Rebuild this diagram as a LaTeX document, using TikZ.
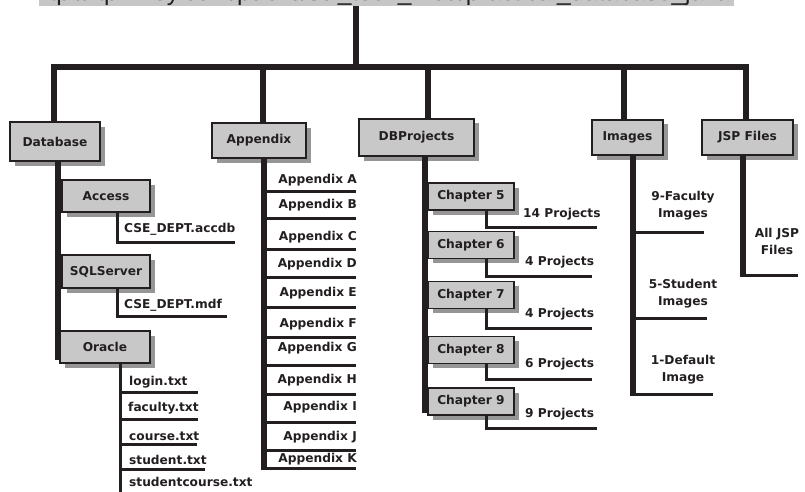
\documentclass[tikz,border=0pt]{standalone}
\usepackage{fontspec}
\setmainfont{DejaVu Sans}
\newfontfamily\urlfont{Liberation Sans}
\usetikzlibrary{shadows}

\definecolor{ink}{RGB}{35,31,32}
\definecolor{boxgray}{RGB}{200,200,200}
\definecolor{shadowgray}{RGB}{150,150,150}
\definecolor{urlgray}{RGB}{198,198,198}

\tikzset{
    folder/.style={draw=ink, line width=1.3pt, fill=boxgray, text=ink,
        font=\bfseries\fontsize{12.2}{17}\selectfont, inner sep=0pt,
        drop shadow={shadow xshift=4.5pt, shadow yshift=-4.5pt, fill=shadowgray, opacity=1}},
    item/.style={text=ink, font=\bfseries\fontsize{12.2}{17}\selectfont, inner sep=0pt},
    trunk/.style={draw=ink, line width=6pt},
    branch/.style={draw=ink, line width=3pt}
}

\begin{document}
\begin{tikzpicture}[x=1pt,y=-1pt]
    \useasboundingbox (0,0) rectangle (805,492);
    \clip (0,0) rectangle (805,492);

    \node[fill=urlgray, text=ink, font=\urlfont\fontsize{24.5}{26}\selectfont,
        inner xsep=4pt, inner ysep=0.5pt, anchor=base] (url) at (386.5,0.5)
        {ftp://ftp.wiley.com/public/sci\_tech\_med/practical\_database\_java};
    \coordinate (hub) at (356,67);

    \node[folder, minimum width=90pt, minimum height=39pt] (db) at (55,141.5) {Database};
    \node[folder, minimum width=94pt, minimum height=35pt] (app) at (259,140.5) {Appendix};
    \node[folder, minimum width=115pt, minimum height=37pt] (dbp) at (416.5,137.5) {DBProjects};
    \node[folder, minimum width=71pt, minimum height=35pt] (img) at (627.5,137.5) {Images};
    \node[folder, minimum width=91pt, minimum height=35pt] (jsp) at (747.5,137.5) {JSP Files};

    \draw[trunk] (hub |- url.south) -- (hub);
    \draw[trunk] ([xshift=-1pt]db.north) |- (hub);
    \draw[trunk] ([xshift=4pt]app.north) |- (hub);
    \draw[trunk] ([xshift=11.5pt]dbp.north) |- (hub);
    \draw[trunk] ([xshift=-3.5pt]img.north) |- (hub);
    \draw[trunk] ([xshift=-1.5pt]jsp.north) |- (hub);

    % Database
    \node[folder, minimum width=88pt, minimum height=32pt] (acc) at (106,196) {Access};
    \node[folder, minimum width=88pt, minimum height=33pt] (sql) at (106,271.5) {SQLServer};
    \node[folder, minimum width=90pt, minimum height=32pt] (ora) at (105,347) {Oracle};
    \coordinate (dbend) at (58,360);
    \draw[trunk] (db.south -| dbend) -- (dbend);

    \node[item, anchor=west] (accdb) at (124,229) {CSE\_DEPT.accdb};
    \coordinate (accend) at (235,242);
    \draw[branch] ([xshift=11pt]acc.south) |- (accend);
    \node[item, anchor=west] (mdf) at (124,305) {CSE\_DEPT.mdf};
    \coordinate (mdfend) at (227,316);
    \draw[branch] ([xshift=11pt]sql.south) |- (mdfend);

    \coordinate (oraend) at (120,500);
    \draw[branch] ([xshift=15pt]ora.south) -- (oraend);
    \node[item, anchor=west] (login) at (129,382) {login.txt};
    \node[item, anchor=west] (fac) at (128,408) {faculty.txt};
    \node[item, anchor=west] (course) at (129,436) {course.txt};
    \node[item, anchor=west] (stu) at (129,460) {student.txt};
    \node[item, anchor=west] (stucrs) at (129,482) {studentcourse.txt};
    \coordinate (loginend) at (198,392);
    \coordinate (facend) at (198,419);
    \coordinate (courseend) at (197,444);
    \coordinate (stuend) at (205,469);
    \draw[branch] (oraend |- loginend) -- (loginend);
    \draw[branch] (oraend |- facend) -- (facend);
    \draw[branch] (oraend |- courseend) -- (courseend);
    \draw[branch] (oraend |- stuend) -- (stuend);

    % Appendix
    \coordinate (atr) at (264,468);
    \draw[trunk] (atr |- app.south) -- ([yshift=-1.5pt]atr);
    \node[item, anchor=east] (apA) at (357,180) {Appendix A};
    \node[item, anchor=east] (apB) at (357,205) {Appendix B};
    \node[item, anchor=east] (apC) at (357,237) {Appendix C};
    \node[item, anchor=east] (apD) at (357,264) {Appendix D};
    \node[item, anchor=east] (apE) at (357,293) {Appendix E};
    \node[item, anchor=east] (apF) at (357,324) {Appendix F};
    \node[item, anchor=east] (apG) at (357,348) {Appendix G};
    \node[item, anchor=east] (apH) at (357,380) {Appendix H};
    \node[item, anchor=east] (apI) at (357,407) {Appendix I};
    \node[item, anchor=east] (apJ) at (357,437) {Appendix J};
    \node[item, anchor=east] (apK) at (357,459) {Appendix K};
    \coordinate (aendA) at (356,191);
    \coordinate (aendB) at (356,218);
    \coordinate (aendC) at (356,249);
    \coordinate (aendD) at (356,277);
    \coordinate (aendE) at (356,307);
    \coordinate (aendF) at (356,337);
    \coordinate (aendG) at (356,365);
    \coordinate (aendH) at (356,394);
    \coordinate (aendI) at (356,422);
    \coordinate (aendJ) at (356,450);
    \coordinate (aendK) at (356,468);
    \draw[branch] (atr |- aendA) -- (aendA);
    \draw[branch] (atr |- aendB) -- (aendB);
    \draw[branch] (atr |- aendC) -- (aendC);
    \draw[branch] (atr |- aendD) -- (aendD);
    \draw[branch] (atr |- aendE) -- (aendE);
    \draw[branch] (atr |- aendF) -- (aendF);
    \draw[branch] (atr |- aendG) -- (aendG);
    \draw[branch] (atr |- aendH) -- (aendH);
    \draw[branch] (atr |- aendI) -- (aendI);
    \draw[branch] (atr |- aendJ) -- (aendJ);
    \draw[branch] (atr) -- (aendK);

    % DBProjects
    \coordinate (dtr) at (425,413);
    \draw[trunk] (dtr |- dbp.south) -- (dtr);
    \node[folder, minimum width=86pt, minimum height=27pt] (ch5) at (471,196.5) {Chapter 5};
    \node[folder, minimum width=86pt, minimum height=27pt] (ch6) at (471,245) {Chapter 6};
    \node[folder, minimum width=86pt, minimum height=27pt] (ch7) at (471,295) {Chapter 7};
    \node[folder, minimum width=86pt, minimum height=27pt] (ch8) at (471,350) {Chapter 8};
    \node[folder, minimum width=86pt, minimum height=27pt] (ch9) at (471,401.5) {Chapter 9};
    \node[item, anchor=west] (p5) at (523,214) {14 Projects};
    \node[item, anchor=west] (p6) at (525,262) {4 Projects};
    \node[item, anchor=west] (p7) at (525,314) {4 Projects};
    \node[item, anchor=west] (p8) at (525,364) {6 Projects};
    \node[item, anchor=west] (p9) at (525,414) {9 Projects};
    \coordinate (p5end) at (597,227);
    \coordinate (p6end) at (592,276);
    \coordinate (p7end) at (592,328);
    \coordinate (p8end) at (592,379);
    \coordinate (p9end) at (597,428);
    \draw[branch] ([xshift=15pt]ch5.south) |- (p5end);
    \draw[branch] ([xshift=15pt]ch6.south) |- (p6end);
    \draw[branch] ([xshift=15pt]ch7.south) |- (p7end);
    \draw[branch] ([xshift=15pt]ch8.south) |- (p8end);
    \draw[branch] ([xshift=15pt]ch9.south) |- (p9end);

    % Images
    \coordinate (itr) at (633,394);
    \draw[trunk] (itr |- img.south) -- ([yshift=-1.5pt]itr);
    \node[item, align=center] (fac9) at (683,205.5) {9-Faculty\\Images};
    \node[item, align=center] (stu5) at (683,294) {5-Student\\Images};
    \node[item, align=center] (def1) at (683,369.5) {1-Default\\Image};
    \coordinate (facimg) at (704,232);
    \coordinate (stuimg) at (707,318);
    \coordinate (defimg) at (713,394);
    \draw[branch] (itr |- facimg) -- (facimg);
    \draw[branch] (itr |- stuimg) -- (stuimg);
    \draw[branch] (itr) -- (defimg);

    % JSP Files
    \coordinate (jtr) at (743,275);
    \draw[trunk] (jtr |- jsp.south) -- ([yshift=-1.5pt]jtr);
    \node[item, align=center] (alljsp) at (777,241) {All JSP\\Files};
    \coordinate (jspend) at (798,275);
    \draw[branch] (jtr) -- (jspend);
\end{tikzpicture}
\end{document}
